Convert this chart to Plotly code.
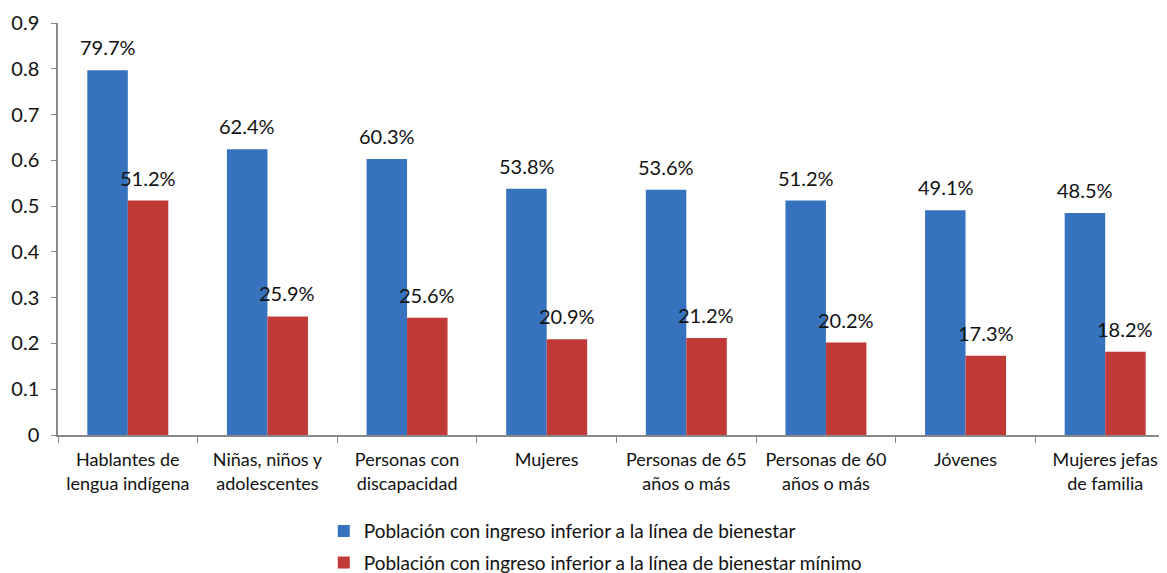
import plotly.graph_objects as go

categorias = ["Hablantes de<br>lengua indígena", "Niñas, niños y<br>adolescentes",
              "Personas con<br>discapacidad", "Mujeres", "Personas de 65<br>años o más",
              "Personas de 60<br>años o más", "Jóvenes", "Mujeres jefas<br>de familia"]
bienestar = [0.797, 0.624, 0.603, 0.538, 0.536, 0.512, 0.491, 0.485]
bienestar_minimo = [0.512, 0.259, 0.256, 0.209, 0.212, 0.202, 0.173, 0.182]

FONT = "Lato"

fig = go.Figure()
fig.add_trace(go.Bar(x=categorias, y=bienestar, legendgroup="a",
                     name="Población con ingreso inferior a la línea de bienestar",
                     marker=dict(color="#3672BD", line=dict(width=0))))
fig.add_trace(go.Bar(x=categorias, y=bienestar_minimo, legendgroup="b",
                     name="Población con ingreso inferior a la línea de bienestar mínimo",
                     marker=dict(color="#C23A38", line=dict(width=0))))

# etiquetas de porcentaje encima de cada barra
for cat, v1, v2 in zip(categorias, bienestar, bienestar_minimo):
    fig.add_annotation(x=cat, y=v1, text=f"{v1*100:.1f}%", showarrow=False,
                       xshift=-20, yshift=23, font=dict(size=20, color="#111"))
    fig.add_annotation(x=cat, y=v2, text=f"{v2*100:.1f}%", showarrow=False,
                       xshift=20, yshift=23, font=dict(size=20, color="#111"))

# la página tiene 8px de margen, así que la figura se desplaza un poco
fig.update_layout(
    width=1167, height=565,
    margin=dict(l=50, r=0, t=15, b=138, autoexpand=False),
    paper_bgcolor="white", plot_bgcolor="white",
    font=dict(family=FONT, size=18, color="#111"),
    barmode="group", bargap=0.42, bargroupgap=0,
    showlegend=True,
    legend=dict(orientation="v", x=0.481, xanchor="center", y=-0.187, yanchor="top",
                font=dict(size=19), itemwidth=30, tracegroupgap=4),
)
fig.update_xaxes(showline=True, linecolor="#888", linewidth=1.5, automargin=False,
                 ticks="outside", tickson="boundaries", ticklen=6, tickcolor="#888",
                 ticklabelstandoff=8, tickfont=dict(size=18))
fig.update_yaxes(range=[0, 0.9], showgrid=False, zeroline=False, automargin=False,
                 showline=True, linecolor="#888", linewidth=1.5,
                 ticks="outside", ticklen=5, tickcolor="#888", ticklabelstandoff=8,
                 tickfont=dict(size=20),
                 tickvals=[0, 0.1, 0.2, 0.3, 0.4, 0.5, 0.6, 0.7, 0.8, 0.9],
                 ticktext=["0", "0.1", "0.2", "0.3", "0.4", "0.5", "0.6", "0.7", "0.8", "0.9"])

fig.write_html("out.html")
